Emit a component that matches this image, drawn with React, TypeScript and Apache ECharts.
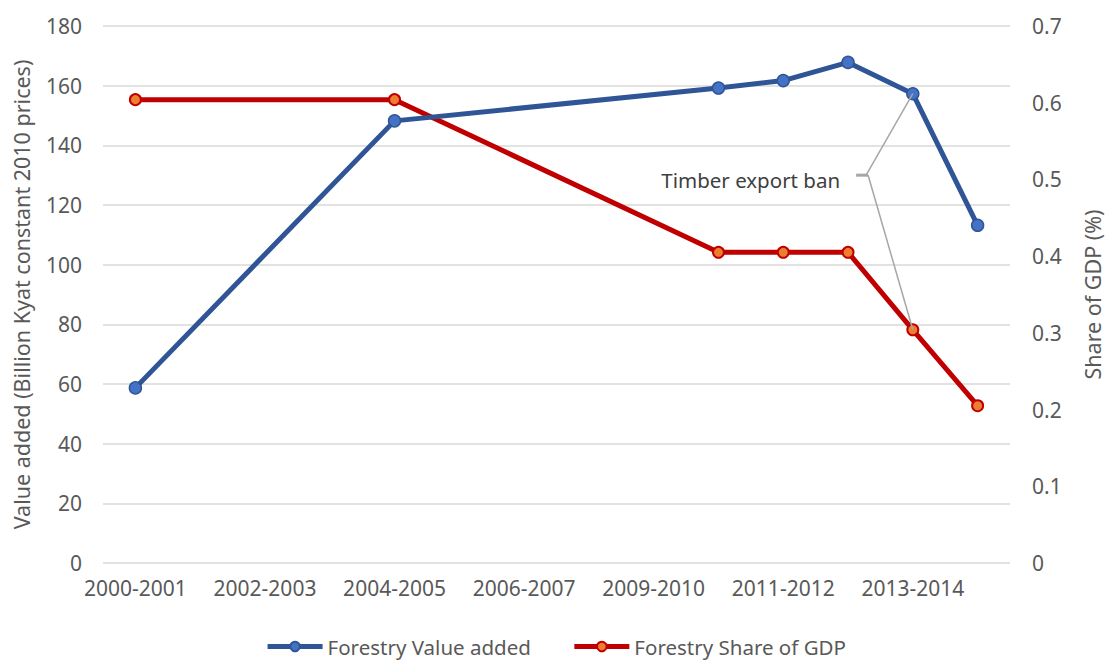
import React, { useEffect, useRef } from "react";
import * as echarts from "echarts";

const categories = [
  "2000-2001", "2001-2002", "2002-2003", "2003-2004", "2004-2005", "2005-2006", "2006-2007",
  "2008-2009", "2009-2010", "2010-2011", "2011-2012", "2012-2013", "2013-2014", "2014-2015",
];
const valueAdded = [58.7, null, null, null, 148.2, null, null, null, null, 159.2, 161.7, 167.8, 157.3, 113.2];
const shareOfGdp = [0.604, null, null, null, 0.604, null, null, null, null, 0.405, 0.405, 0.405, 0.304, 0.205];
const leftTicks = { min: 0, max: 180, interval: 20 };
const rightTicks = { min: 0, max: 0.7, interval: 0.1 };
const annotationText = "Timber export ban";
const annotationIndex = 12;

const FONT = "'Noto Sans', sans-serif";
const TXT = "#595959";

export default function App() {
  const ref = useRef<HTMLDivElement>(null);
  useEffect(() => {
    if (!ref.current) return;
    const chart = echarts.init(ref.current, undefined, { renderer: "svg" });
    chart.setOption({
      animation: false,
      textStyle: { fontFamily: FONT },
      grid: { left: 103, right: 93, top: 26, bottom: 99 },
      legend: {
        bottom: 0,
        left: "center",
        itemWidth: 55,
        itemHeight: 12,
        itemGap: 41,
        lineStyle: { width: 5 },
        textStyle: { fontSize: 20.5, color: TXT, fontFamily: FONT },
        data: ["Forestry Value added", "Forestry Share of GDP"],
      },
      xAxis: {
        type: "category",
        data: categories,
        boundaryGap: true,
        axisLine: { show: false },
        axisTick: { show: false },
        axisLabel: { interval: 1, fontSize: 21, color: TXT, margin: 14, fontFamily: FONT },
      },
      yAxis: [
        {
          type: "value",
          ...leftTicks,
          name: "Value added (Billion Kyat constant 2010 prices)",
          nameLocation: "middle",
          nameGap: 71,
          nameTextStyle: { fontSize: 21.5, color: TXT, fontFamily: FONT },
          axisLabel: { fontSize: 21, color: TXT, margin: 21, fontFamily: FONT },
          splitLine: { lineStyle: { color: "#d9d9d9", width: 1.5 } },
          axisLine: { show: false },
        },
        {
          type: "value",
          ...rightTicks,
          position: "right",
          name: "Share of GDP (%)",
          nameLocation: "middle",
          nameGap: 71,
          nameTextStyle: { fontSize: 21.5, color: TXT, fontFamily: FONT },
          axisLabel: {
            fontSize: 21, color: TXT, margin: 22, fontFamily: FONT,
            formatter: (v: number) => (v === 0 ? "0" : String(Math.round(v * 10) / 10)),
          },
          splitLine: { show: false },
          axisLine: { show: false },
        },
      ],
      series: [
        {
          name: "Forestry Value added",
          type: "line",
          yAxisIndex: 0,
          data: valueAdded,
          connectNulls: true,
          symbol: "circle",
          symbolSize: 12,
          lineStyle: { color: "#2F5597", width: 5 },
          itemStyle: { color: "#4472C4", borderColor: "#2F5597", borderWidth: 1.5 },
          z: 3,
        },
        {
          name: "Forestry Share of GDP",
          type: "line",
          yAxisIndex: 1,
          data: shareOfGdp,
          connectNulls: true,
          symbol: "circle",
          symbolSize: 11,
          lineStyle: { color: "#C00000", width: 5 },
          itemStyle: { color: "#ED7D31", borderColor: "#C00000", borderWidth: 2 },
          z: 2,
        },
      ],
    });

    const pBlue = chart.convertToPixel({ xAxisIndex: 0, yAxisIndex: 0 }, [annotationIndex, valueAdded[annotationIndex]]) as number[];
    const pRed = chart.convertToPixel({ xAxisIndex: 0, yAxisIndex: 1 }, [annotationIndex, shareOfGdp[annotationIndex]]) as number[];
    const p11 = chart.convertToPixel({ xAxisIndex: 0, yAxisIndex: 0 }, [annotationIndex - 1, 130]) as number[];
    const ax = p11[0] + (pBlue[0] - p11[0]) * 0.31;
    const ay = p11[1];
    const gray = "#a6a6a6";
    chart.setOption({
      graphic: [
        { type: "line", shape: { x1: ax - 12, y1: ay, x2: ax, y2: ay }, style: { stroke: gray, lineWidth: 3 }, z: 10 },
        { type: "line", shape: { x1: ax - 2, y1: ay, x2: pBlue[0], y2: pBlue[1] }, style: { stroke: gray, lineWidth: 1.5 }, z: 10 },
        { type: "line", shape: { x1: ax, y1: ay, x2: pRed[0], y2: pRed[1] }, style: { stroke: gray, lineWidth: 1.5 }, z: 10 },
        {
          type: "text",
          x: ax - 28,
          y: ay + 5,
          style: { text: annotationText, fontSize: 20.5, fill: "#404040", fontFamily: FONT, align: "right", verticalAlign: "middle" },
          z: 10,
        },
      ],
    });
    return () => chart.dispose();
  }, []);
  return <div ref={ref} style={{ width: 1111, height: 662, position: "absolute", left: 0, top: 0 }} />;
}
